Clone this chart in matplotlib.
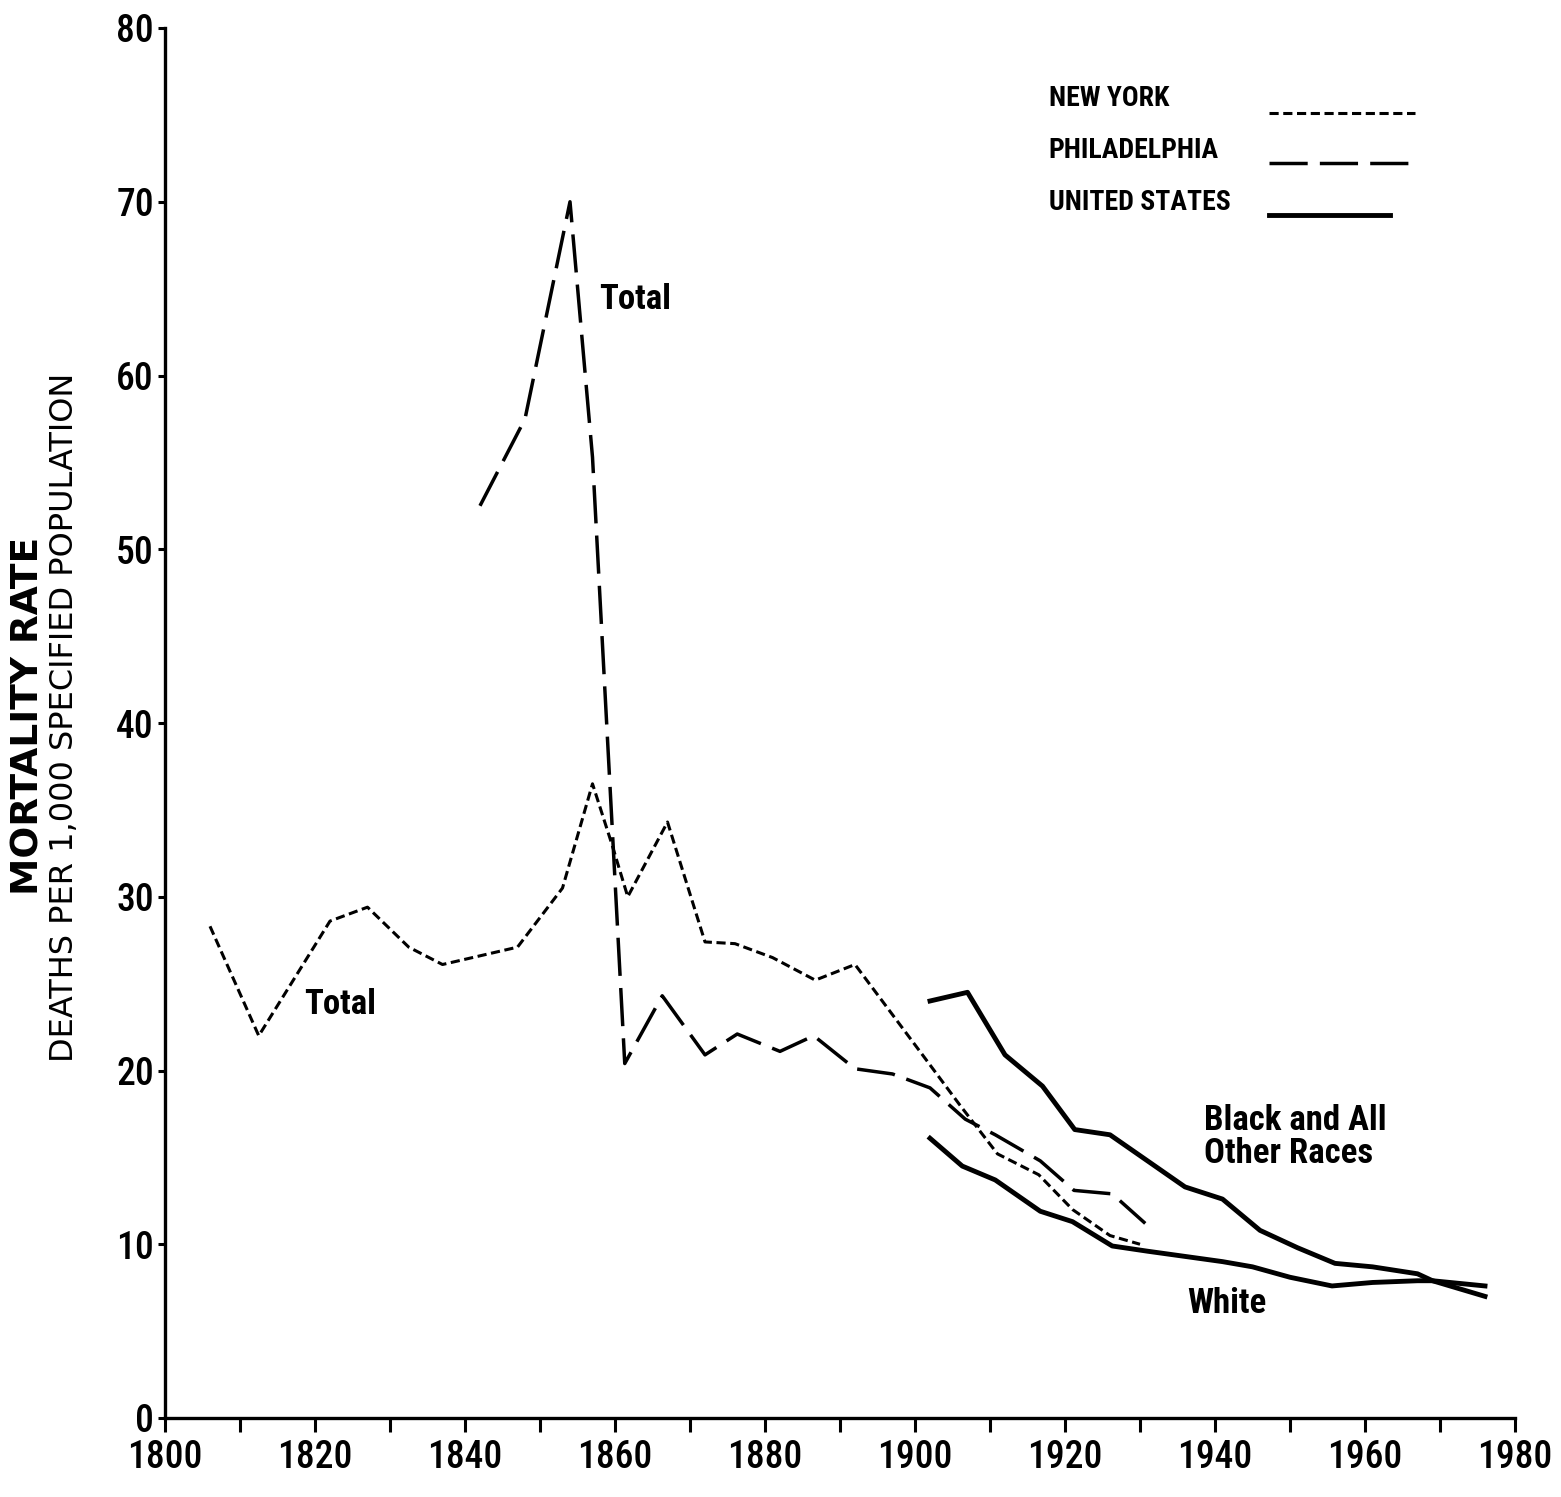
import matplotlib
matplotlib.use("Agg")
import matplotlib.pyplot as plt
from matplotlib import font_manager
from matplotlib.ticker import MultipleLocator

# condensed face for numbers and notes, first one found on the system
_names = {f.name for f in font_manager.fontManager.ttflist}
NARROW = next((n for n in ("Roboto Condensed", "PT Sans Narrow", "Archivo Narrow",
                           "Liberation Sans Narrow") if n in _names), "DejaVu Sans")
plt.rcParams["font.family"] = [NARROW, "DejaVu Sans"]

# New York, total
ny_year = [1806, 1812.5, 1822, 1827, 1832.5, 1837, 1847, 1850, 1853, 1857,
           1859.6, 1861.7, 1867, 1872, 1876, 1881, 1886.7, 1892, 1901,
           1906, 1911, 1916.5, 1921, 1926, 1930]
ny_rate = [28.3, 22.0, 28.6, 29.4, 27.1, 26.1, 27.1, 28.8, 30.5, 36.5,
           33.0, 30.0, 34.3, 27.4, 27.3, 26.5, 25.2, 26.1, 20.9,
           18.0, 15.2, 14.0, 12.0, 10.5, 10.0]

# Philadelphia, total
ph_year = [1842, 1848, 1854, 1857, 1861.3, 1866.3, 1872, 1876.3, 1882, 1886.5,
           1892, 1897, 1902, 1906.7, 1910.7, 1916.7, 1921.2, 1926.3, 1930.7]
ph_rate = [52.5, 57.5, 70.0, 55.3, 20.4, 24.3, 20.9, 22.1, 21.1, 22.0,
           20.1, 19.8, 19.0, 17.2, 16.3, 14.8, 13.1, 12.9, 11.2]

# United States, black and all other races
usb_year = [1902, 1907, 1912, 1917, 1921.3, 1926, 1931, 1936, 1941, 1946,
            1951, 1956, 1961, 1967, 1969, 1976]
usb_rate = [24.0, 24.5, 20.9, 19.1, 16.6, 16.3, 14.8, 13.3, 12.6, 10.8,
            9.8, 8.9, 8.7, 8.3, 7.9, 7.0]

# United States, white
usw_year = [1902, 1906.3, 1910.7, 1916.7, 1921, 1926.3, 1931, 1936, 1941, 1945,
            1950, 1955.6, 1961, 1967, 1969, 1976]
usw_rate = [16.1, 14.5, 13.7, 11.9, 11.3, 9.9, 9.6, 9.3, 9.0, 8.7,
            8.1, 7.6, 7.8, 7.9, 7.9, 7.6]

NY_STYLE = dict(color="black", lw=2.2, linestyle=(0, (3, 1.5)))
PH_STYLE = dict(color="black", lw=2.5, linestyle=(0, (11, 3.5)))
US_STYLE = dict(color="black", lw=3.5, solid_joinstyle="round")

fig = plt.figure(figsize=(15.61, 14.97), dpi=100)
ax = fig.add_axes([165 / 1561, 1 - 1418 / 1497, 1350 / 1561, 1390 / 1497])

ax.plot(ny_year, ny_rate, **NY_STYLE)
ax.plot(ph_year, ph_rate, **PH_STYLE)
ax.plot(usb_year, usb_rate, **US_STYLE)
ax.plot(usw_year, usw_rate, **US_STYLE)

ax.set_xlim(1800, 1980)
ax.set_ylim(0, 80)
for s in ("top", "right"):
    ax.spines[s].set_visible(False)
for s in ("left", "bottom"):
    ax.spines[s].set_linewidth(2.4)

ax.xaxis.set_major_locator(MultipleLocator(20))
ax.xaxis.set_minor_locator(MultipleLocator(10))
ax.yaxis.set_major_locator(MultipleLocator(10))
ax.tick_params(axis="x", which="both", direction="out", length=10, width=2.2, pad=5)
ax.tick_params(axis="y", which="major", direction="out", length=5, width=2.2, pad=3)
ax.tick_params(labelsize=27)
for lab in ax.get_xticklabels() + ax.get_yticklabels():
    lab.set_fontweight("medium")

# axis titles
fig.text(0.018, 0.522, "MORTALITY RATE", rotation=90, ha="center", va="center",
         fontsize=27, fontweight="bold", family="DejaVu Sans")
fig.text(0.041, 0.521, "DEATHS PER 1,000 SPECIFIED POPULATION", rotation=90,
         ha="center", va="center", fontsize=23, family="DejaVu Sans")

# curve notes
note = dict(fontsize=25, fontweight="bold", va="center", ha="left")
ax.text(1857.9, 64.4, "Total", **note)
ax.text(1818.5, 23.8, "Total", **note)
ax.text(1938.6, 16.2, "Black and All\nOther Races", linespacing=1.0, **note)
ax.text(1936.3, 6.6, "White", **note)

# key
key = [("NEW YORK", NY_STYLE, 0.9496, 0.9388, 0.926),
       ("PHILADELPHIA", PH_STYLE, 0.9121, 0.9027, 0.926),
       ("UNITED STATES", US_STYLE, 0.8746, 0.8653, 0.9075)]
for label, style, ty, ly, x1 in key:
    ax.text(0.6546, ty, label, transform=ax.transAxes, fontsize=20,
            fontweight="bold", va="center", ha="left")
    ax.plot([0.8175, x1], [ly, ly], transform=ax.transAxes, **style)

fig.savefig("out.png", dpi=100)
